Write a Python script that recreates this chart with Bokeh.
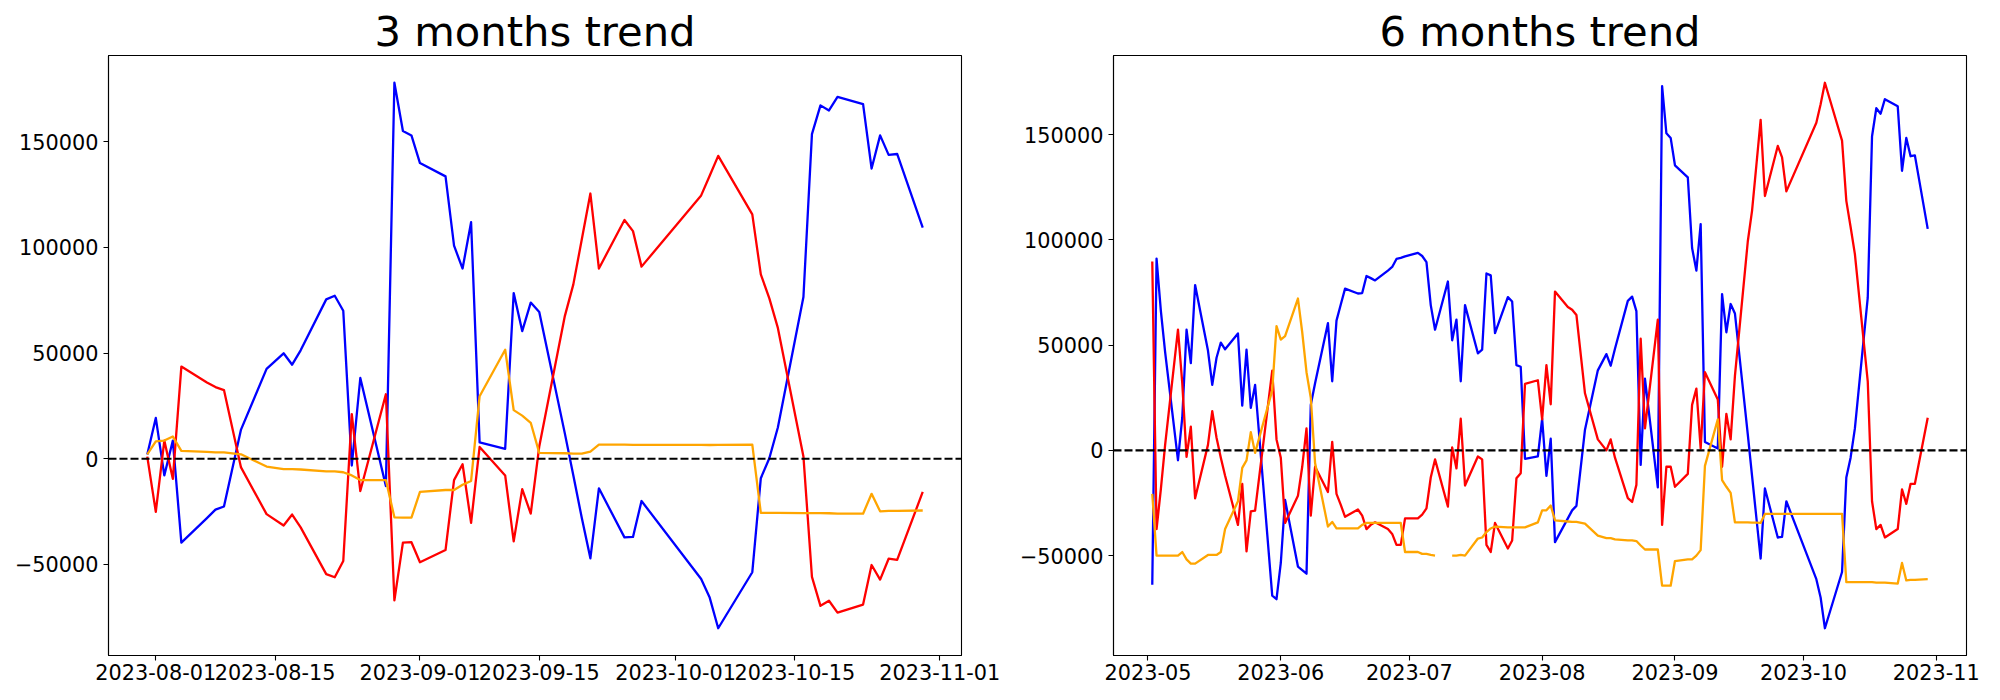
import numpy as np
import pandas as pd
from bokeh.plotting import figure
from bokeh.layouts import row
from bokeh.models import (Range1d, FixedTicker, DatetimeTickFormatter, Span,
                          BasicTickFormatter)
from bokeh.embed import file_html
from bokeh.resources import INLINE

NaN = float("nan")

# ---------------- 3 months data ----------------
dates_3m = ["2023-07-31", "2023-08-01", "2023-08-02", "2023-08-03", "2023-08-04", "2023-08-07",
            "2023-08-08", "2023-08-09", "2023-08-11", "2023-08-14", "2023-08-16", "2023-08-17",
            "2023-08-18", "2023-08-21", "2023-08-22", "2023-08-23", "2023-08-24", "2023-08-25",
            "2023-08-28", "2023-08-29", "2023-08-30", "2023-08-31", "2023-09-01", "2023-09-04",
            "2023-09-05", "2023-09-06", "2023-09-07", "2023-09-08", "2023-09-11", "2023-09-12",
            "2023-09-13", "2023-09-14", "2023-09-15", "2023-09-18", "2023-09-19", "2023-09-20",
            "2023-09-21", "2023-09-22", "2023-09-25", "2023-09-26", "2023-09-27", "2023-10-04",
            "2023-10-05", "2023-10-06", "2023-10-10", "2023-10-11", "2023-10-12", "2023-10-13",
            "2023-10-16", "2023-10-17", "2023-10-18", "2023-10-19", "2023-10-20", "2023-10-23",
            "2023-10-24", "2023-10-25", "2023-10-26", "2023-10-27", "2023-10-30"]
blue_3m = [2000, 19300, -7900, 8600, -39700, -28100, -24100, -22600, 13800, 42500, 49900, 44500,
           51300, 75400, 77100, 70000, -3200, 38200, -12900, 177900, 155100, 153000, 139900, 133600,
           100800, 90000, 111900, 7700, 4700, 78400, 60400, 73900, 69400, 12000, -7900, -28200,
           -47100, -14000, -37200, -37000, -20000, -56900, -65700, -80200, -53700, -9200, 200, 14800,
           76500, 153600, 167200, 164800, 171200, 167800, 137300, 153000, 143800, 144200, 109400]
red_3m = [1000, -25100, 8600, -9500, 43600, 36100, 33900, 32500, -4100, -26200, -31600, -26400,
          -32500, -54600, -56100, -48400, 21100, -15300, 30500, -67000, -39700, -39500, -49000, -43200,
          -10100, -2600, -30300, 5600, -7900, -39100, -14400, -26000, 5800, 67500, 82500, 104000,
          125500, 90000, 113000, 107700, 90900, 124600, 133900, 143300, 115600, 87200, 75900, 61900,
          1100, -55900, -69600, -67200, -72800, -69000, -50300, -57200, -47300, -47900, -15700]
orange_3m = [2100, 8200, 8600, 10500, 3700, 3200, 3000, 3000, 2100, -3700, -4900, -4900,
             -5100, -6000, -6000, -6400, -7900, -10100, -10100, -27700, -27900, -27900, -15700, -14800,
             -14800, -12300, -10500, 29600, 51600, 23000, 20400, 17000, 2800, 2600, 2400, 2400,
             3400, 6700, 6700, 6600, 6600, 6600, 6500, 6600, 6700, -25600, -25600, -25600,
             -25700, -25700, -25700, -25800, -26000, -26000, -16600, -24900, -24700, -24700, -24500]
xticks_3m = ["2023-08-01", "2023-08-15", "2023-09-01", "2023-09-15", "2023-10-01", "2023-10-15", "2023-11-01"]

# ---------------- 6 months data ----------------
dates_6m = ["2023-05-02", "2023-05-03", "2023-05-04", "2023-05-05", "2023-05-08", "2023-05-09",
            "2023-05-10", "2023-05-11", "2023-05-12", "2023-05-15", "2023-05-16", "2023-05-17",
            "2023-05-18", "2023-05-19", "2023-05-22", "2023-05-23", "2023-05-24", "2023-05-25",
            "2023-05-26", "2023-05-30", "2023-05-31", "2023-06-01", "2023-06-02", "2023-06-05",
            "2023-06-06", "2023-06-07", "2023-06-08", "2023-06-09", "2023-06-12", "2023-06-13",
            "2023-06-14", "2023-06-15", "2023-06-16", "2023-06-19", "2023-06-20", "2023-06-21",
            "2023-06-22", "2023-06-23", "2023-06-26", "2023-06-27", "2023-06-28", "2023-06-29",
            "2023-06-30", "2023-07-03", "2023-07-04", "2023-07-05", "2023-07-06", "2023-07-07",
            "2023-07-10", "2023-07-11", "2023-07-12", "2023-07-13", "2023-07-14", "2023-07-17",
            "2023-07-18", "2023-07-19", "2023-07-20", "2023-07-21", "2023-07-24", "2023-07-25",
            "2023-07-26", "2023-07-27", "2023-07-28", "2023-07-31", "2023-08-01", "2023-08-02",
            "2023-08-03", "2023-08-04", "2023-08-07", "2023-08-08", "2023-08-09", "2023-08-11",
            "2023-08-14", "2023-08-16", "2023-08-17", "2023-08-18", "2023-08-21", "2023-08-22",
            "2023-08-23", "2023-08-24", "2023-08-25", "2023-08-28", "2023-08-29", "2023-08-30",
            "2023-08-31", "2023-09-01", "2023-09-04", "2023-09-05", "2023-09-06", "2023-09-07",
            "2023-09-08", "2023-09-11", "2023-09-12", "2023-09-13", "2023-09-14", "2023-09-15",
            "2023-09-18", "2023-09-19", "2023-09-20", "2023-09-21", "2023-09-22", "2023-09-25",
            "2023-09-26", "2023-09-27", "2023-10-04", "2023-10-05", "2023-10-06", "2023-10-10",
            "2023-10-11", "2023-10-12", "2023-10-13", "2023-10-16", "2023-10-17", "2023-10-18",
            "2023-10-19", "2023-10-20", "2023-10-23", "2023-10-24", "2023-10-25", "2023-10-26",
            "2023-10-27", "2023-10-30"]
blue_6m = [-63800, 91100, 66400, 46600, -4700, 15500, 57300, 41400, 78500, 47400, 31100, 44000,
           51200, 48000, 55500, 21200, 47800, 20200, 31100, -69000, -70700, -53500, -23600, -55200,
           -56900, -58600, 21600, 31900, 60400, 32800, 61600, 69300, 76800, 74500, 74700, 82800,
           81800, 80700, 85400, 87100, 90900, 91400, 92100, 93800, 92300, 89400, 69000, 57300,
           80200, 52300, 62100, 32800, 69000, 46100, 47800, 84000, 83100, 55700, 72800, 70700,
           40500, 39700, -4000, -2900, 15000, -12100, 5500, -43600, -32300, -28500, -26400, 9800,
           38000, 45700, 40200, 48300, 71000, 73000, 66100, -6900, 34000, -17600, 173000, 150600,
           148400, 135400, 129700, 96100, 85400, 107500, 4000, 900, 74200, 56100, 69500, 65000,
           7600, -12200, -31900, -51400, -18100, -41400, -41100, -24200, -61200, -69900, -84500, -57800,
           -12900, -3500, 10400, 72500, 149200, 162500, 159900, 166800, 163400, 132800, 148400, 139700,
           140100, 105200]
red_6m = [89700, -37400, -18500, 2600, 57300, 31900, -3100, 11200, -22800, 2600, 18600, 6000,
          -3500, -12100, -35400, -15900, -48000, -29000, -28600, 37800, 5200, -3500, -34500, -21600,
          -7800, 10400, -31000, -7800, -19800, 4000, -20700, -25900, -31600, -28100, -31000, -37400,
          -35400, -34200, -37400, -39700, -44900, -44900, -32300, -32300, -30500, -27600, -12900, -4300,
          -26700, 1400, -8600, 15000, -16700, -2900, -4300, -44900, -48300, -34500, -46600, -42800,
          -13300, -10900, 31600, 33300, 14700, 40500, 21900, 75400, 68100, 66800, 64300, 27100,
          5200, 0, 5200, -3500, -22700, -24500, -16400, 53000, 10400, 62100, -35400, -7800,
          -7800, -17300, -11200, 21600, 29300, 900, 37100, 24200, -7800, 17300, 5200, 35400,
          99200, 113900, 135400, 157000, 120800, 144600, 139200, 123000, 155600, 164400, 174600, 147100,
          118500, 106100, 93200, 32800, -24200, -37400, -35400, -41400, -37400, -18500, -25400, -15900,
          -15900, 15500]
orange_6m = [-20700, -50000, -50000, -50000, -50000, -48300, -51800, -53800, -53800, -49700, -49700, -49700,
             -48300, -37400, -24200, -8300, -4800, 8600, -1200, 28500, 59000, 52600, 54300, 72100,
             56100, 37100, 25000, -6000, -36200, -34000, -37100, -37100, -37100, -37100, -35400, -34500,
             -34500, -34500, -34500, -34500, -34500, -34500, -48300, -48300, -49200, -49200, -49700, -50000,
             NaN, -50000, -50000, -49700, -50000, -41900, -41400, -38800, -37100, -36200, -36600, -36600,
             -36600, -36600, -36600, -34200, -28500, -28500, -26200, -33300, -33800, -34000, -34000, -34800,
             -40500, -41700, -41700, -42300, -42800, -42800, -43100, -45200, -47100, -47100, -64300, -64300,
             -64300, -52600, -51800, -51800, -50000, -47400, -7400, 14700, -14100, -17300, -20200, -34200,
             -34200, -34300, -34300, -34500, -30200, -30200, -30200, -30200, -30200, -30200, -30200, -30200,
             -62600, -62600, -62600, -62600, -62600, -62800, -62800, -62800, -63300, -53500, -61800, -61500,
             -61500, -61200]
xticks_6m = ["2023-05-01", "2023-06-01", "2023-07-01", "2023-08-01", "2023-09-01", "2023-10-01", "2023-11-01"]

yticks = [-50000, 0, 50000, 100000, 150000]

FONT = "DejaVu Sans"


def ms(s):
    return pd.Timestamp(s).value / 1e6


def make_panel(title, dates, blue, red, orange, xticks, fmt, border_left, border_right):
    x = pd.to_datetime(dates)
    vals = np.array(blue + red + orange, dtype=float)
    lo, hi = np.nanmin(vals), np.nanmax(vals)
    ypad = 0.05 * (hi - lo)
    x0, x1 = ms(dates[0]), ms(dates[-1])
    xpad = 0.05 * (x1 - x0)

    p = figure(x_axis_type="datetime", frame_width=853, frame_height=600,
               min_border_left=border_left, min_border_right=border_right,
               min_border_top=55, min_border_bottom=40,
               x_range=Range1d(x0 - xpad, x1 + xpad),
               y_range=Range1d(lo - ypad, hi + ypad),
               output_backend="svg", toolbar_location=None)
    p.background_fill_color = "white"
    p.border_fill_color = "white"
    p.outline_line_color = "black"
    p.outline_line_width = 1.1
    p.outline_line_alpha = 1.0
    p.xgrid.visible = False
    p.ygrid.visible = False

    p.title.text = title
    p.title.align = "center"
    p.title.text_font = FONT
    p.title.text_font_size = "41.7px"
    p.title.text_font_style = "normal"
    p.title.text_color = "black"
    p.title.standoff = 0

    p.line(x, blue, line_color="blue", line_width=2.3, line_join="round")
    p.line(x, red, line_color="red", line_width=2.3, line_join="round")
    p.line(x, orange, line_color="orange", line_width=2.3, line_join="round")

    p.add_layout(Span(location=0, dimension="width", line_color="black",
                      line_dash="8 3", line_width=2.1))

    p.xaxis.ticker = FixedTicker(ticks=[ms(t) for t in xticks])
    p.xaxis.formatter = DatetimeTickFormatter(
        microseconds=fmt, milliseconds=fmt, seconds=fmt, minsec=fmt, minutes=fmt,
        hourmin=fmt, hours=fmt, days=fmt, months=fmt, years=fmt)
    p.yaxis.ticker = FixedTicker(ticks=yticks)
    p.yaxis.formatter = BasicTickFormatter(use_scientific=False)
    p.yaxis.major_label_overrides = {-50000: "\u221250000"}

    for ax in (p.xaxis[0], p.yaxis[0]):
        ax.major_label_text_font = FONT
        ax.major_label_text_font_size = "20.8px"
        ax.major_label_text_color = "black"
        ax.major_tick_out = 5
        ax.major_tick_in = 0
        ax.minor_tick_out = 0
        ax.minor_tick_in = 0
        ax.major_tick_line_width = 1.1
        ax.major_tick_line_color = "black"
        ax.axis_line_width = 1.1
        ax.axis_line_color = "black"
    p.xaxis[0].major_label_standoff = 3
    p.yaxis[0].major_label_standoff = 5
    return p


p1 = make_panel("3 months trend", dates_3m, blue_3m, red_3m, orange_3m, xticks_3m, "%Y-%m-%d", 108, 52)
p2 = make_panel("6 months trend", dates_6m, blue_6m, red_6m, orange_6m, xticks_6m, "%Y-%m", 100, 25)

layout = row(p1, p2)
open("out.html", "w").write(file_html(layout, INLINE))
